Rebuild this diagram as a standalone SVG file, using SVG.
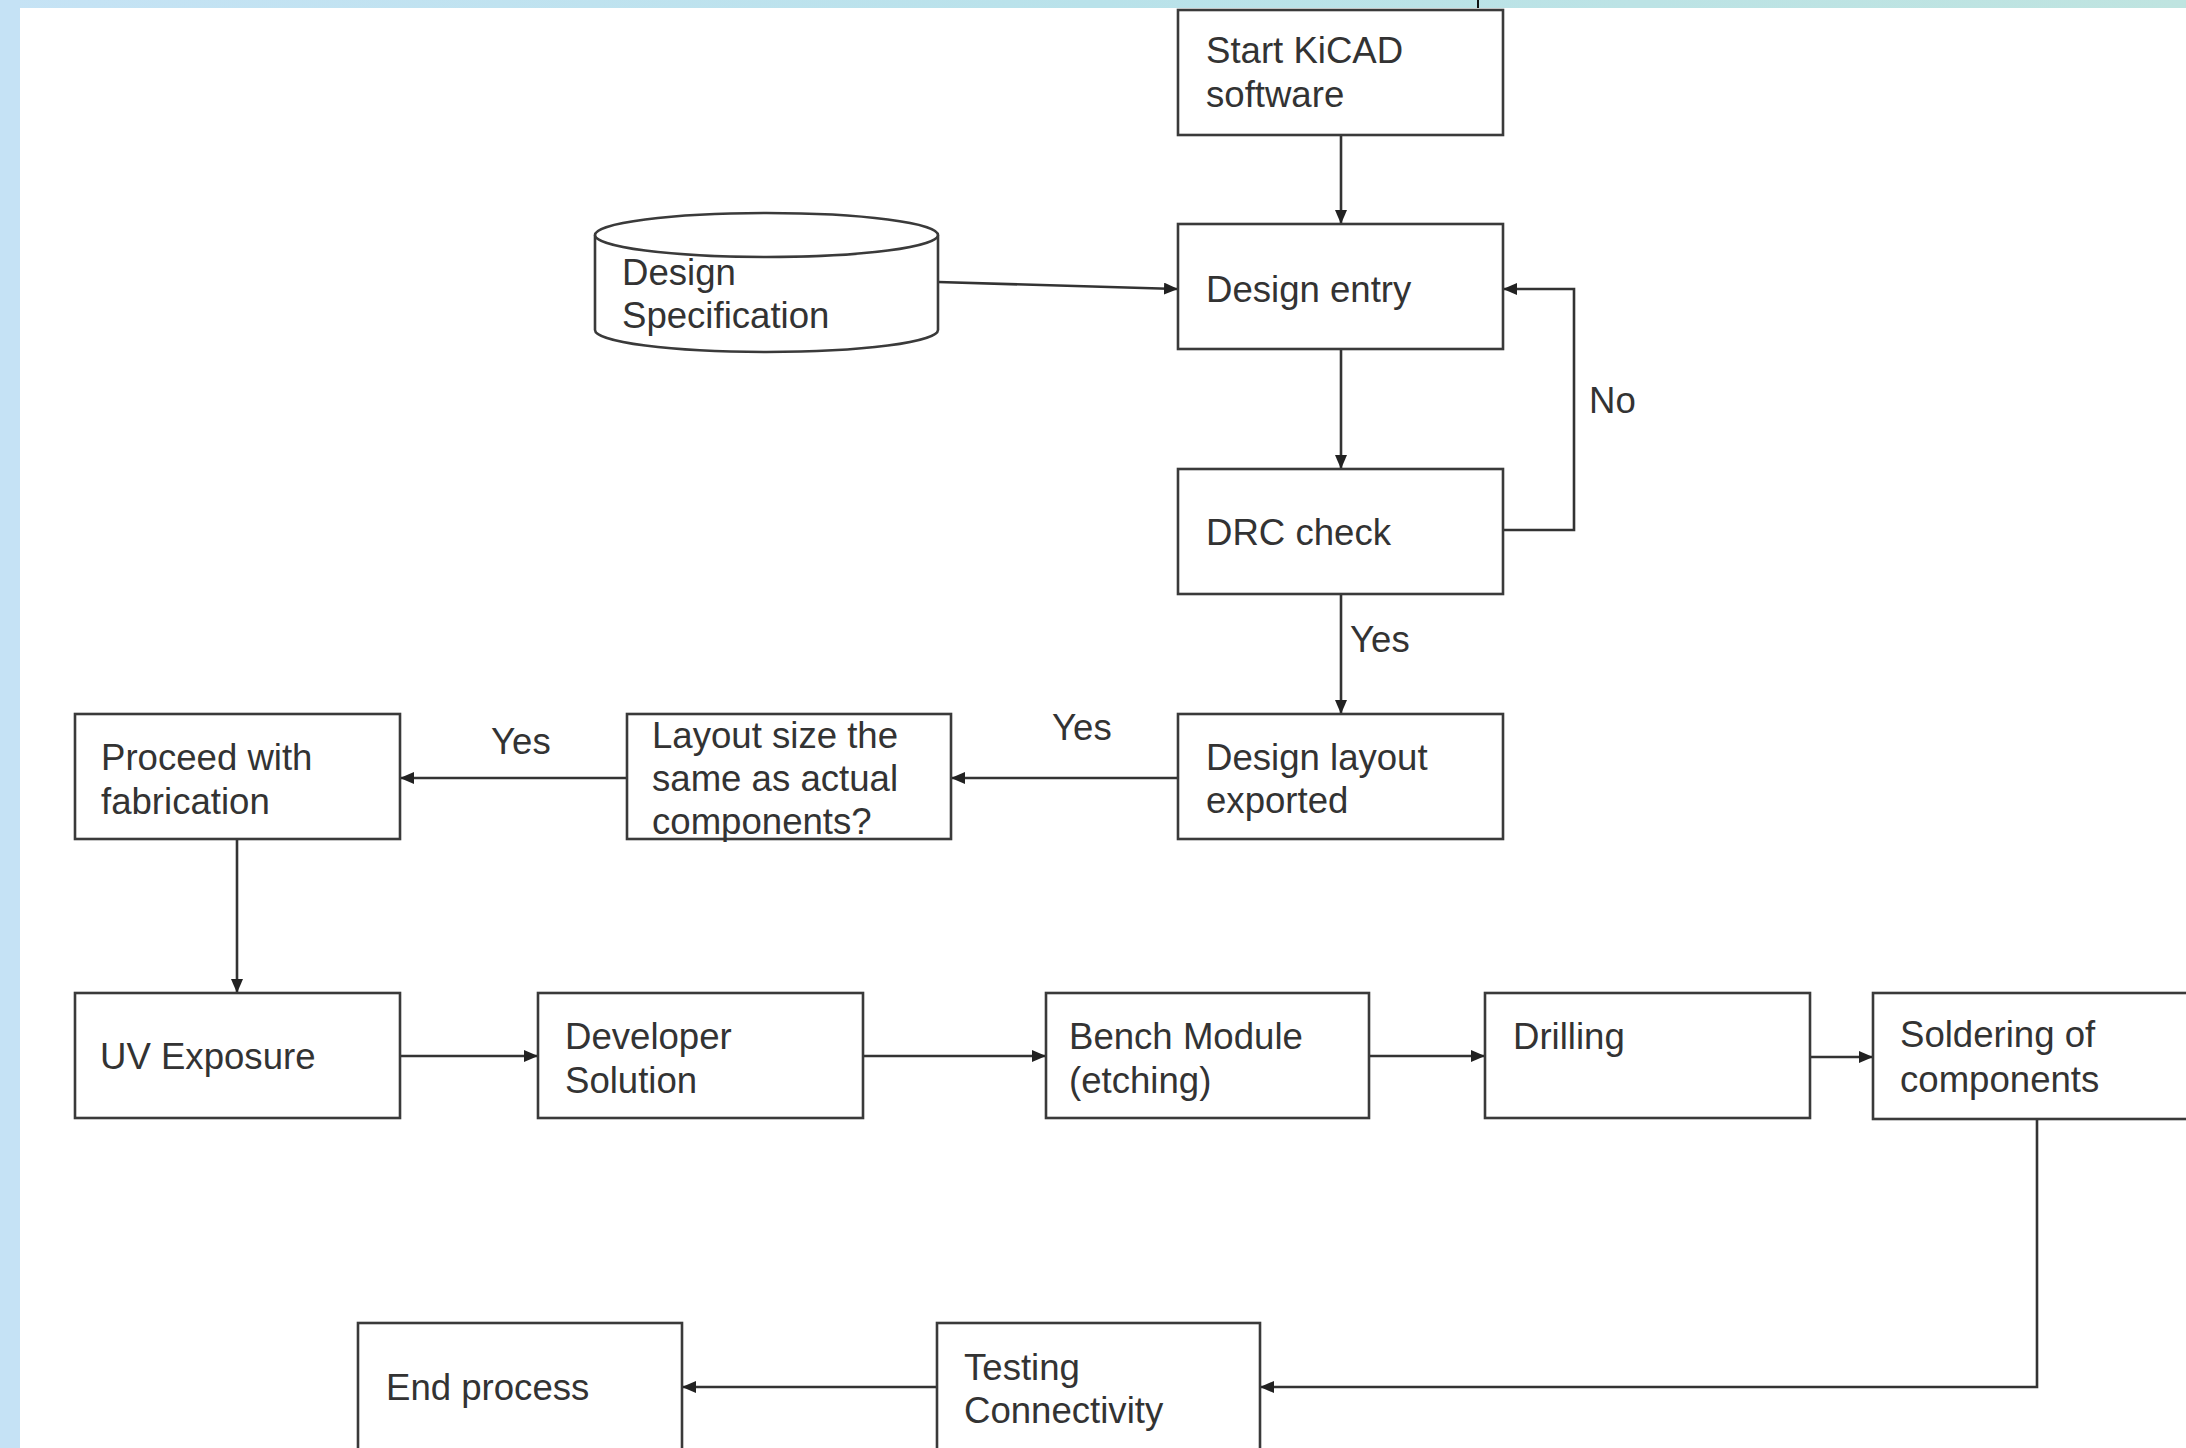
<svg xmlns="http://www.w3.org/2000/svg" width="2186" height="1448" viewBox="0 0 2186 1448">
<defs>
<linearGradient id="topbar" x1="0" y1="0" x2="1" y2="0">
<stop offset="0" stop-color="#c6e3f5"/>
<stop offset="0.5" stop-color="#b9e2ea"/>
<stop offset="1" stop-color="#bfe4e0"/>
</linearGradient>
<marker id="arr" markerUnits="userSpaceOnUse" markerWidth="14" markerHeight="12" refX="13" refY="6" orient="auto">
<path d="M0,0 L14,6 L0,12 z" fill="#222"/>
</marker>
<style>
.box{fill:#fff;stroke:#3a3a3a;stroke-width:2.6}
.t{font-family:"Liberation Sans",Arial,sans-serif;font-size:36.6px;fill:#333}
.c{fill:none;stroke:#333;stroke-width:2.6}
</style>
</defs>
<rect x="0" y="0" width="2186" height="1448" fill="#fff"/>
<rect x="0" y="0" width="2186" height="8" fill="url(#topbar)"/>
<rect x="0" y="0" width="20" height="1448" fill="#c5e2f5"/>
<line x1="1478" y1="0" x2="1478" y2="8" stroke="#111" stroke-width="2"/>

<g id="connectors">
<line class="c" x1="1341" y1="135" x2="1341" y2="223" marker-end="url(#arr)"/>
<line class="c" x1="938" y1="282" x2="1177" y2="289" marker-end="url(#arr)"/>
<line class="c" x1="1341" y1="349" x2="1341" y2="468" marker-end="url(#arr)"/>
<polyline class="c" points="1503,530 1574,530 1574,289 1504,289" marker-end="url(#arr)"/>
<line class="c" x1="1341" y1="594" x2="1341" y2="713" marker-end="url(#arr)"/>
<line class="c" x1="1178" y1="778" x2="952" y2="778" marker-end="url(#arr)"/>
<line class="c" x1="627" y1="778" x2="401" y2="778" marker-end="url(#arr)"/>
<line class="c" x1="237" y1="839" x2="237" y2="992" marker-end="url(#arr)"/>
<line class="c" x1="400" y1="1056" x2="537" y2="1056" marker-end="url(#arr)"/>
<line class="c" x1="863" y1="1056" x2="1045" y2="1056" marker-end="url(#arr)"/>
<line class="c" x1="1369" y1="1056" x2="1484" y2="1056" marker-end="url(#arr)"/>
<line class="c" x1="1810" y1="1057" x2="1872" y2="1057" marker-end="url(#arr)"/>
<polyline class="c" points="2037,1119 2037,1387 1261,1387" marker-end="url(#arr)"/>
<line class="c" x1="937" y1="1387" x2="683" y2="1387" marker-end="url(#arr)"/>
<text class="t" x="1589" y="413">No</text>
<text class="t" x="1350" y="652">Yes</text>
<text class="t" x="1052" y="740">Yes</text>
<text class="t" x="491" y="754">Yes</text>
</g>

<g id="start">
<rect class="box" x="1178" y="10" width="325" height="125"/>
<text class="t" x="1206" y="63">Start KiCAD</text>
<text class="t" x="1206" y="107">software</text>
</g>
<g id="design-spec">
<path class="box" d="M595,235 A171.5,22 0 0,1 938,235 L938,330 A171.5,22 0 0,1 595,330 Z"/>
<path class="box" d="M595,235 A171.5,22 0 0,0 938,235"/>
<text class="t" x="622" y="285">Design</text>
<text class="t" x="622" y="328">Specification</text>
</g>
<g id="design-entry">
<rect class="box" x="1178" y="224" width="325" height="125"/>
<text class="t" x="1206" y="302">Design entry</text>
</g>
<g id="drc">
<rect class="box" x="1178" y="469" width="325" height="125"/>
<text class="t" x="1206" y="545">DRC check</text>
</g>
<g id="layout-exported">
<rect class="box" x="1178" y="714" width="325" height="125"/>
<text class="t" x="1206" y="770">Design layout</text>
<text class="t" x="1206" y="813">exported</text>
</g>
<g id="layout-size">
<rect class="box" x="627" y="714" width="324" height="125"/>
<text class="t" x="652" y="748">Layout size the</text>
<text class="t" x="652" y="791">same as actual</text>
<text class="t" x="652" y="834">components?</text>
</g>
<g id="proceed">
<rect class="box" x="75" y="714" width="325" height="125"/>
<text class="t" x="101" y="770">Proceed with</text>
<text class="t" x="101" y="814">fabrication</text>
</g>
<g id="uv">
<rect class="box" x="75" y="993" width="325" height="125"/>
<text class="t" x="100" y="1069">UV Exposure</text>
</g>
<g id="developer">
<rect class="box" x="538" y="993" width="325" height="125"/>
<text class="t" x="565" y="1049">Developer</text>
<text class="t" x="565" y="1093">Solution</text>
</g>
<g id="bench">
<rect class="box" x="1046" y="993" width="323" height="125"/>
<text class="t" x="1069" y="1049">Bench Module</text>
<text class="t" x="1069" y="1093">(etching)</text>
</g>
<g id="drilling">
<rect class="box" x="1485" y="993" width="325" height="125"/>
<text class="t" x="1513" y="1049">Drilling</text>
</g>
<g id="soldering">
<rect class="box" x="1873" y="993" width="325" height="126"/>
<text class="t" x="1900" y="1047">Soldering of</text>
<text class="t" x="1900" y="1092">components</text>
</g>
<g id="testing">
<rect class="box" x="937" y="1323" width="323" height="130"/>
<text class="t" x="964" y="1380">Testing</text>
<text class="t" x="964" y="1423">Connectivity</text>
</g>
<g id="end">
<rect class="box" x="358" y="1323" width="324" height="130"/>
<text class="t" x="386" y="1400">End process</text>
</g>
</svg>
